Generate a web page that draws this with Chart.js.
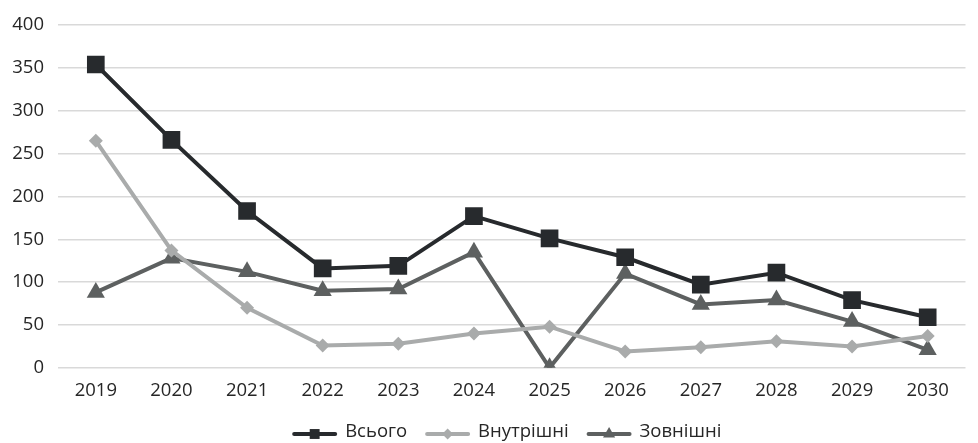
<!DOCTYPE html>
<html>
<head>
<meta charset="utf-8">
<script src="https://cdn.jsdelivr.net/npm/chart.js@4/dist/chart.umd.min.js"></script>
<style>
  html, body { margin: 0; padding: 0; background: #fff; }
  #wrap { width: 978px; height: 443px; position: relative; }
</style>
</head>
<body>
<div id="wrap"><canvas id="c"></canvas></div>
<script>
// Years on the horizontal axis
const years = ['2019', '2020', '2021', '2022', '2023', '2024', '2025', '2026', '2027', '2028', '2029', '2030'];

// Series values
const totalValues    = [354, 266, 183, 116, 119, 177, 151, 129, 97, 111, 79, 59];
const internalValues = [265, 137, 70, 26, 28, 40, 48, 19, 24, 31, 25, 37];
const externalValues = [88, 128, 112, 90, 92, 135, 0, 110, 74, 79, 54, 21];

// Series names
const seriesNames = ['Всього', 'Внутрішні', 'Зовнішні'];

// Value axis ticks
const yTicks = [0, 50, 100, 150, 200, 250, 300, 350, 400];

const FONT = '"Open Sans", "Noto Sans", sans-serif';
const FONT_SIZE = 18.5;
const TEXT_COLOR = '#262626';
const colors = ['#272a2d', '#a9abab', '#5d6060'];
const markerStyles = ['rect', 'rectRot', 'triangle'];
const markerRadius = [12.5, 7, 10.5];

function dataset(i, values) {
  return {
    label: seriesNames[i],
    data: values,
    borderColor: colors[i],
    backgroundColor: colors[i],
    borderWidth: 4,
    pointStyle: markerStyles[i],
    pointRadius: markerRadius[i],
    pointHoverRadius: markerRadius[i],
    pointBorderWidth: 0,
    tension: 0
  };
}

// Legend below the plot: line sample with the series marker, then the name
const lineLegend = {
  id: 'lineLegend',
  afterDraw(chart) {
    const ctx = chart.ctx;
    const area = chart.chartArea;
    const iconW = 45, iconGap = 8, itemGap = 18;
    ctx.save();
    ctx.font = FONT_SIZE + 'px ' + FONT;
    const widths = chart.data.datasets.map(ds => iconW + iconGap + ctx.measureText(ds.label).width);
    const total = widths.reduce((a, b) => a + b, 0) + itemGap * (widths.length - 1);
    let x = (area.left + area.right) / 2 - 5 - total / 2;
    const yText = chart.height - 11.5;
    const yLine = yText + 2.5;
    chart.data.datasets.forEach((ds, i) => {
      ctx.strokeStyle = ds.borderColor;
      ctx.fillStyle = ds.borderColor;
      ctx.lineWidth = 4;
      ctx.lineCap = 'round';
      ctx.beginPath();
      ctx.moveTo(x + 2, yLine);
      ctx.lineTo(x + iconW - 2, yLine);
      ctx.stroke();
      const r = { rect: 7, rectRot: 5.5, triangle: 7 }[ds.pointStyle];
      Chart.helpers.drawPoint(ctx, { pointStyle: ds.pointStyle, radius: r, rotation: 0, borderWidth: 0 }, x + iconW / 2, yLine);
      ctx.fillStyle = TEXT_COLOR;
      ctx.textBaseline = 'middle';
      ctx.textAlign = 'left';
      ctx.fillText(ds.label, x + iconW + iconGap, yText);
      x += widths[i] + itemGap;
    });
    ctx.restore();
  }
};

new Chart(document.getElementById('c'), {
  type: 'line',
  data: {
    labels: years,
    datasets: [
      dataset(0, totalValues),
      dataset(1, internalValues),
      dataset(2, externalValues)
    ]
  },
  options: {
    responsive: true,
    maintainAspectRatio: false,
    animation: false,
    layout: { padding: { top: 12, right: 1, left: 0, bottom: 29 } },
    scales: {
      x: {
        offset: true,
        grid: { display: false, drawTicks: false },
        border: { display: false },
        ticks: { color: TEXT_COLOR, font: { family: FONT, size: FONT_SIZE }, padding: 12 }
      },
      y: {
        min: 0,
        max: 400,
        afterBuildTicks: (scale) => { scale.ticks = yTicks.map(v => ({ value: v })); },
        grid: { color: '#d9d9d9', lineWidth: 1.5, drawTicks: false },
        border: { display: false },
        ticks: { color: TEXT_COLOR, font: { family: FONT, size: FONT_SIZE }, padding: 14 },
        afterFit: (scale) => { scale.width = 58; }
      }
    },
    plugins: {
      tooltip: { enabled: false },
      legend: { display: false }
    }
  },
  plugins: [lineLegend]
});
</script>
</body>
</html>
